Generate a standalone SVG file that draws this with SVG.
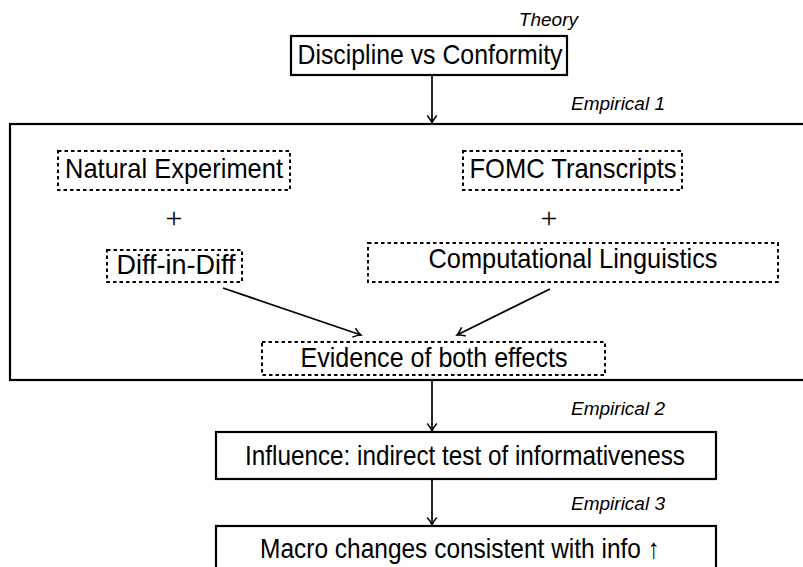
<svg xmlns="http://www.w3.org/2000/svg" width="803" height="567" viewBox="0 0 803 567">
<defs>
<style>
.box{fill:none;stroke:#000;stroke-width:2.2}
.dbox{fill:none;stroke:#000;stroke-width:2;stroke-dasharray:3.5 3}
.t{font-family:"Liberation Sans",Arial,sans-serif;font-size:28px;fill:#000;text-anchor:middle}
.lbl{font-family:"Liberation Sans",Arial,sans-serif;font-size:19px;font-style:italic;fill:#000;text-anchor:end}
.plus{font-family:"Liberation Serif","Times New Roman",serif;font-size:30px;fill:#000;text-anchor:middle}
.edge{fill:none;stroke:#000;stroke-width:1.7;marker-end:url(#ah)}
</style>
<marker id="ah" markerUnits="userSpaceOnUse" viewBox="-9 -6 11 12" refX="0" refY="0" markerWidth="11" markerHeight="12" orient="auto">
<path d="M -7.5 -4.8 C -4.5 -2.2 -1.5 -0.6 0 0 C -1.5 0.6 -4.5 2.2 -7.5 4.8" fill="none" stroke="#000" stroke-width="1.5"/>
</marker>
</defs>

<g id="theory">
<text class="lbl" x="578" y="26">Theory</text>
<rect class="box" x="291" y="36" width="276" height="39"/>
<text class="t" x="430" y="64" textLength="265" lengthAdjust="spacingAndGlyphs">Discipline vs Conformity</text>
</g>

<g id="empirical1">
<text class="lbl" x="665" y="110">Empirical 1</text>
<rect class="box" x="10" y="124" width="830" height="256"/>
</g>

<g id="natural">
<rect class="dbox" x="58" y="151" width="232" height="39"/>
<text class="t" x="174" y="178" textLength="218" lengthAdjust="spacingAndGlyphs">Natural Experiment</text>
</g>
<g id="fomc">
<rect class="dbox" x="463" y="151" width="219" height="39"/>
<text class="t" x="573" y="178" textLength="207" lengthAdjust="spacingAndGlyphs">FOMC Transcripts</text>
</g>

<g id="plus-left"><text class="plus" x="174" y="228">+</text></g>
<g id="plus-right"><text class="plus" x="549" y="228">+</text></g>

<g id="did">
<rect class="dbox" x="107" y="250" width="135" height="32"/>
<text class="t" x="176" y="274" textLength="119" lengthAdjust="spacingAndGlyphs">Diff-in-Diff</text>
</g>
<g id="complin">
<rect class="dbox" x="368" y="243" width="410" height="39"/>
<text class="t" x="573" y="268" textLength="289" lengthAdjust="spacingAndGlyphs">Computational Linguistics</text>
</g>

<g id="evidence">
<rect class="dbox" x="262" y="342" width="343" height="33"/>
<text class="t" x="434" y="367" textLength="267" lengthAdjust="spacingAndGlyphs">Evidence of both effects</text>
</g>

<g id="influence">
<text class="lbl" x="665" y="415">Empirical 2</text>
<rect class="box" x="216" y="432" width="500" height="47"/>
<text class="t" x="465" y="465" textLength="440" lengthAdjust="spacingAndGlyphs">Influence: indirect test of informativeness</text>
</g>

<g id="macro">
<text class="lbl" x="665" y="510">Empirical 3</text>
<rect class="box" x="216" y="526" width="500" height="60"/>
<text class="t" x="460" y="558" textLength="400" lengthAdjust="spacingAndGlyphs">Macro changes consistent with info ↑</text>
</g>

<g id="connectors">
<path class="edge" d="M432 75 V123"/>
<path class="edge" d="M223 288 L361 335"/>
<path class="edge" d="M550 289 L457 335"/>
<path class="edge" d="M432 380 V431"/>
<path class="edge" d="M432 479 V525"/>
</g>
</svg>
